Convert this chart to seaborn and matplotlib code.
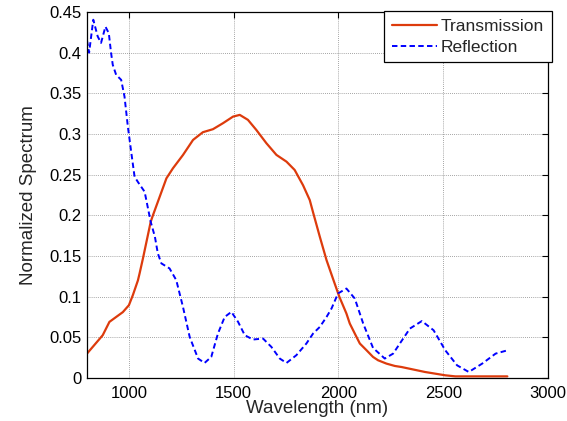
import matplotlib
matplotlib.use("Agg")
import matplotlib.pyplot as plt
import seaborn as sns
import pandas as pd

trans_x = [800, 875, 907, 971, 1000, 1019, 1043, 1051, 1067, 1104, 1115, 1147, 1179, 1210, 1258,
           1306, 1353, 1401, 1449, 1497, 1529, 1568, 1608, 1656, 1704, 1752, 1791, 1831, 1863,
           1879, 1911, 1943, 1974, 2004, 2038, 2054, 2086, 2102, 2134, 2165, 2189, 2229, 2269,
           2301, 2413, 2510, 2558, 2806]
trans_y = [0.030, 0.0526, 0.069, 0.081, 0.0895, 0.102, 0.120, 0.1286, 0.147, 0.192, 0.2003,
           0.2229, 0.2455, 0.2578, 0.2742, 0.2927, 0.3022, 0.3059, 0.3133, 0.3214, 0.3235, 0.3174,
           0.305, 0.2887, 0.2743, 0.266, 0.2558, 0.237, 0.2188, 0.2035, 0.1737, 0.145, 0.122,
           0.100, 0.0793, 0.067, 0.0505, 0.0424, 0.0341, 0.0259, 0.0218, 0.0177, 0.0148, 0.0135,
           0.0074, 0.0033, 0.002, 0.002]

refl_x = [800, 810, 830, 851, 867, 888, 904, 915, 923, 939, 963, 979, 995, 1012, 1027, 1043, 1075,
          1104, 1124, 1138, 1155, 1194, 1226, 1258, 1290, 1330, 1361, 1393, 1425, 1457, 1489, 1521,
          1553, 1592, 1640, 1680, 1720, 1752, 1799, 1847, 1879, 1911, 1943, 1967, 1998, 2038, 2078,
          2118, 2165, 2221, 2261, 2293, 2341, 2398, 2454, 2510, 2566, 2622, 2686, 2750, 2806]
refl_y = [0.415, 0.400, 0.4405, 0.420, 0.412, 0.432, 0.424, 0.3995, 0.385, 0.3728, 0.3666, 0.346,
          0.309, 0.276, 0.2475, 0.241, 0.229, 0.192, 0.1737, 0.1532, 0.1409, 0.1347, 0.1203,
          0.0874, 0.0505, 0.0239, 0.0185, 0.0259, 0.0547, 0.075, 0.0813, 0.069, 0.0526, 0.0473,
          0.0485, 0.0382, 0.0239, 0.0185, 0.028, 0.0424, 0.0547, 0.0628, 0.075, 0.0855, 0.104,
          0.110, 0.0977, 0.067, 0.037, 0.0239, 0.030, 0.0424, 0.0608, 0.070, 0.0587, 0.034,
          0.0156, 0.0074, 0.0177, 0.030, 0.034]

x_ticks = [1000, 1500, 2000, 2500, 3000]
y_ticks = [0, 0.05, 0.1, 0.15, 0.2, 0.25, 0.3, 0.35, 0.4, 0.45]
y_labels = ["0", "0.05", "0.1", "0.15", "0.2", "0.25", "0.3", "0.35", "0.4", "0.45"]

sns.set_style("white")
plt.rcParams['font.family'] = ['Liberation Sans', 'DejaVu Sans']

fig = plt.figure(figsize=(5.67, 4.21), dpi=100)
ax = fig.add_axes([87 / 567, 43 / 421, (548 - 87) / 567, (378 - 12) / 421])

dt = pd.DataFrame({"x": trans_x, "y": trans_y})
dr = pd.DataFrame({"x": refl_x, "y": refl_y})
sns.lineplot(data=dt, x="x", y="y", ax=ax, color="#DD3B0C", lw=1.6, label="Transmission")
sns.lineplot(data=dr, x="x", y="y", ax=ax, color="#0000FF", lw=1.4, linestyle=(0, (2.8, 1.7)),
             label="Reflection")

ax.set_xlim(800, 3000)
ax.set_ylim(0, 0.45)
ax.set_xticks(x_ticks)
ax.set_yticks(y_ticks)
ax.set_yticklabels(y_labels)
ax.grid(True, color="#555555", linestyle=(0, (1, 1.5)), linewidth=0.6, alpha=0.7)
ax.tick_params(direction="in", length=4, labelsize=12, top=True, right=True, width=0.8,
               colors="black")
ax.tick_params(axis="x", pad=6)
ax.tick_params(axis="y", pad=4)
for s in ax.spines.values():
    s.set_visible(True)
    s.set_color("black")
    s.set_linewidth(0.9)

ax.set_xlabel("Wavelength (nm)", fontsize=13.5, labelpad=-1)
ax.set_ylabel("Normalized Spectrum", fontsize=13.5, labelpad=9)

leg = ax.legend(loc="upper right", bbox_to_anchor=(1.009, 1.002), fontsize=12.5, frameon=True,
                fancybox=False, edgecolor="black", framealpha=1, borderpad=0.45,
                handlelength=2.6, handletextpad=0.25, labelspacing=0.3, borderaxespad=0)
leg.get_frame().set_linewidth(0.9)

fig.savefig("out.png", dpi=100)
